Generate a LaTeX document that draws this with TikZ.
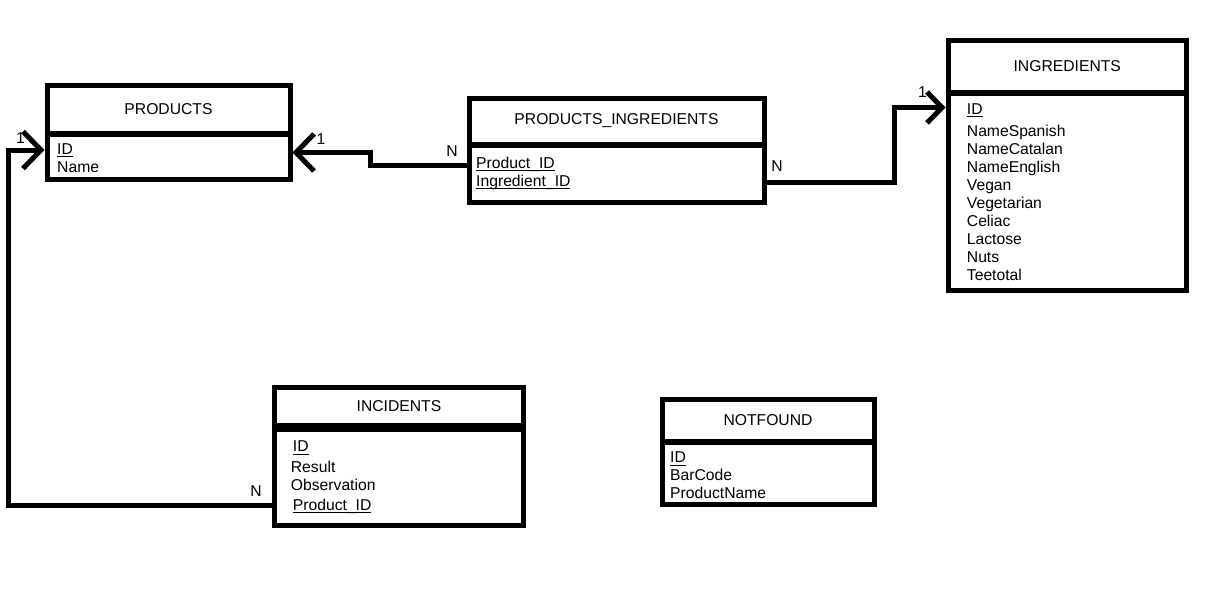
\documentclass[tikz,border=0pt]{standalone}
\usepackage{fontspec}
\setmainfont{Liberation Sans}
\usetikzlibrary{arrows.meta}
\newcommand{\keyfield}[1]{\setbox0\hbox{#1}\rlap{\rule[-3.1pt]{\wd0}{1.2pt}}\box0}

\begin{document}
\begin{tikzpicture}[x=1pt, y=-1pt, font=\fontsize{15.7pt}{18pt}\selectfont,
		tblhead/.style={draw, line width=5pt, inner sep=0pt},
		tblbody/.style={draw, line width=5pt, inner sep=0pt},
		field/.style={anchor=base west, inner sep=0pt},
		card/.style={inner sep=0pt},
		link/.style={line width=5pt},
		fkarrow/.style={-{Straight Barb[length=18pt, width=37pt]}},
		fkarrowsmall/.style={-{Straight Barb[length=15pt, width=31pt]}}]
		\useasboundingbox (0,0) rectangle (1217,614);

		\node[tblhead, minimum width=243pt, minimum height=47.5pt] (prodhead) at (168.5,109.25) {PRODUCTS};
		\node[tblbody, minimum width=243pt, minimum height=45.5pt] (prod) at (168.5,156.75) {};
		\node[field] (prodid) at (57,154) {\keyfield{ID}};
		\node[field] (prodname) at (57,172) {Name};

		\node[tblhead, minimum width=295pt, minimum height=46pt] (pihead) at (616.5,121) {PRODUCTS\_INGREDIENTS};
		\node[tblbody, minimum width=295pt, minimum height=57.5pt] (pi) at (616.5,173.75) {};
		\node[field] (piprod) at (476,168) {\keyfield{Product\_ID}};
		\node[field] (piingr) at (476,186) {\keyfield{Ingredient\_ID}};

		\node[tblhead, minimum width=238.5pt, minimum height=52pt] (ingrhead) at (1067.25,66.5) {INGREDIENTS};
		\node[tblbody, minimum width=238.5pt, minimum height=197.3pt] (ingr) at (1067.25,192.15) {};
		\node[field] (ingrid) at (966.7,114) {\keyfield{ID}};
		\node[field] (ingrspa) at (966.7,136) {NameSpanish};
		\node[field] (ingrcat) at (966.7,154) {NameCatalan};
		\node[field] (ingreng) at (966.7,172) {NameEnglish};
		\node[field] (ingrvegan) at (966.7,190) {Vegan};
		\node[field] (ingrveg) at (966.7,208) {Vegetarian};
		\node[field] (ingrcel) at (966.7,226) {Celiac};
		\node[field] (ingrlac) at (966.7,244) {Lactose};
		\node[field] (ingrnuts) at (966.7,262) {Nuts};
		\node[field] (ingrtee) at (966.7,280) {Teetotal};

		\node[tblhead, minimum width=249pt, minimum height=38pt] (inchead) at (399,406.5) {INCIDENTS};
		\node[tblbody, minimum width=249pt, minimum height=96pt] (inc) at (399,477) {};
		\node[field] (incid) at (292.7,451.7) {\keyfield{ID}};
		\node[field] (incres) at (290.7,472.3) {Result};
		\node[field] (incobs) at (290.7,490.7) {Observation};
		\node[field] (incprod) at (292.7,510) {\keyfield{Product\_ID}};

		\node[tblhead, minimum width=212pt, minimum height=42pt] (nfhead) at (768,420) {NOTFOUND};
		\node[tblbody, minimum width=212pt, minimum height=62pt] (nf) at (768,473) {};
		\node[field] (nfid) at (670,462.7) {\keyfield{ID}};
		\node[field] (nfbar) at (670,480.7) {BarCode};
		\node[field] (nfname) at (670,498.3) {ProductName};

		\draw[link, fkarrow] ([yshift=8.75pt]pi.west) -- ++(-96.5,0) |- ([yshift=4.25pt]prod.east);
		\draw[link, fkarrowsmall] ([yshift=-8.75pt]pi.east) -- ++(128,0) |- ([yshift=84.65pt]ingr.west);
		\draw[link, fkarrow] ([yshift=-28pt]inc.west) -- ++(-263.5,0) |- ([yshift=6.75pt]prod.west);

		\node[card] (prodone) at (321,139) {1};
		\node[card] (pimany) at (452,151) {N};
		\node[card] (pimany2) at (777,166) {N};
		\node[card] (ingrone) at (922.5,91.7) {1};
		\node[card] (prodone2) at (20.5,138) {1};
		\node[card] (incmany) at (256,491) {N};
	\end{tikzpicture}
\end{document}
